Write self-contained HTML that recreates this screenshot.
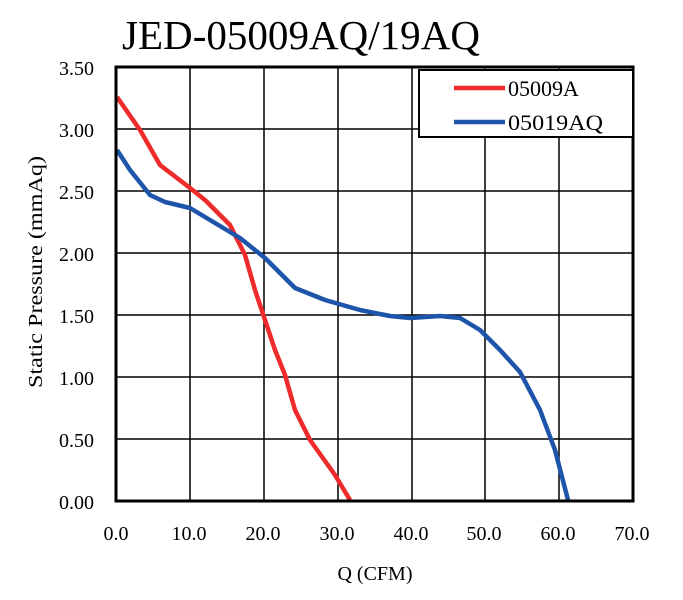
<!DOCTYPE html>
<html><head><meta charset="utf-8"><style>body{margin:0;background:#fff}svg{display:block}</style></head>
<body>
<svg width="683" height="600" xmlns="http://www.w3.org/2000/svg" font-family="Liberation Serif, serif">
<text x="301" y="49" font-size="41" text-anchor="middle" textLength="358" lengthAdjust="spacingAndGlyphs">JED-05009AQ/19AQ</text>
<g stroke="#000" stroke-width="1.5">
<line x1="190" y1="67" x2="190" y2="501"/><line x1="264" y1="67" x2="264" y2="501"/>
<line x1="338" y1="67" x2="338" y2="501"/><line x1="412" y1="67" x2="412" y2="501"/>
<line x1="485" y1="67" x2="485" y2="501"/><line x1="559" y1="67" x2="559" y2="501"/>
<line x1="116" y1="129" x2="633" y2="129"/><line x1="116" y1="191" x2="633" y2="191"/>
<line x1="116" y1="253" x2="633" y2="253"/><line x1="116" y1="315" x2="633" y2="315"/>
<line x1="116" y1="377" x2="633" y2="377"/><line x1="116" y1="439" x2="633" y2="439"/>
</g>
<polyline fill="none" stroke="#ee2a2a" stroke-width="4.5" stroke-linejoin="round" points="117,97 140,130 160,165 190,188 205,200 230,225 245,255 255,290 265,320 275,350 285,375 295,410 310,440 335,475 350,500"/>
<polyline fill="none" stroke="#1e55aa" stroke-width="4.5" stroke-linejoin="round" points="117,150 130,170 150,195 165,202 190,208 210,220 240,238 265,258 295,288 325,300 360,310 390,316 410,318 440,316 460,318 480,330 500,350 520,372 540,410 555,450 568,500"/>
<rect x="116" y="67" width="517" height="434" fill="none" stroke="#000" stroke-width="3"/>
<rect x="419" y="70" width="214" height="67" fill="#fff" stroke="#000" stroke-width="2"/>
<line x1="454" y1="88" x2="505" y2="88" stroke="#ee2a2a" stroke-width="4.5"/>
<line x1="454" y1="122" x2="505" y2="122" stroke="#1e55aa" stroke-width="4.5"/>
<text x="508" y="96" font-size="22">05009A</text>
<text x="508" y="130" font-size="22" textLength="95" lengthAdjust="spacingAndGlyphs">05019AQ</text>
<g font-size="20" text-anchor="end">
<text x="94" y="75">3.50</text><text x="94" y="137">3.00</text><text x="94" y="199">2.50</text>
<text x="94" y="261">2.00</text><text x="94" y="323">1.50</text><text x="94" y="385">1.00</text>
<text x="94" y="447">0.50</text><text x="94" y="509">0.00</text>
</g>
<g font-size="20" text-anchor="middle">
<text x="116" y="540">0.0</text><text x="189" y="540">10.0</text><text x="263" y="540">20.0</text>
<text x="337" y="540">30.0</text><text x="411" y="540">40.0</text><text x="484" y="540">50.0</text>
<text x="558" y="540">60.0</text><text x="632" y="540">70.0</text>
</g>
<text x="375" y="580" font-size="20" text-anchor="middle">Q (CFM)</text>
<text transform="translate(42,272) rotate(-90)" font-size="20" text-anchor="middle" textLength="232" lengthAdjust="spacingAndGlyphs">Static Pressure (mmAq)</text>
</svg>
</body></html>
